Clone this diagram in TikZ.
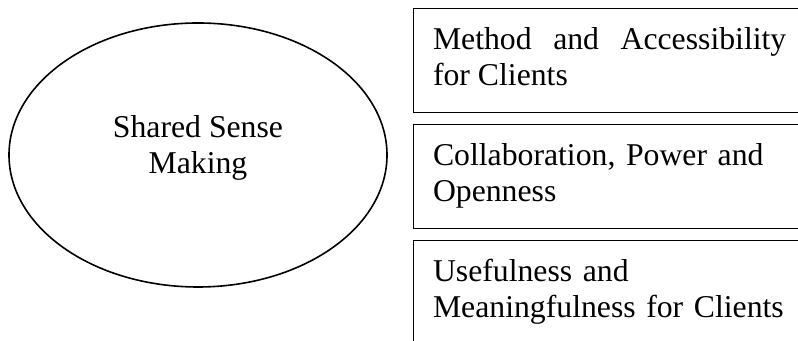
\documentclass[tikz,border=0pt]{standalone}
\usepackage{fontspec}
\setmainfont{Liberation Serif}
\usetikzlibrary{shapes.geometric}
\usetikzlibrary{positioning}
\tolerance=9999
\hyphenpenalty=10000

\begin{document}
\begin{tikzpicture}[x=0.75pt,y=0.75pt,node distance=9pt,
    sense node/.style={ellipse,draw,line width=1.2pt,minimum width=283.5pt,minimum height=198pt,align=center,font=\fontsize{23.8}{27}\selectfont},
    theme box/.style={rectangle,draw,line width=0.7pt,anchor=north west,outer sep=0pt,inner xsep=15pt,inner ysep=0pt,text width=265pt,minimum height=78pt,font=\fontsize{23.8}{27}\selectfont,execute at begin node=\strut,execute at end node=\strut}]
   \useasboundingbox (0,0) rectangle (798,341);
   \clip (0,0) rectangle (798,341);
   \begin{scope}
      \node[sense node] (ssm) at (198,186) {Shared Sense\\Making\rule[-16.2pt]{0pt}{0pt}};
      \node[theme box,align=justify] (mac) at (413,333) {Method and Accessibility for Clients};
      \node[theme box,align=left,below=of mac.south west,anchor=north west] (cpo) {Collaboration, Power and Openness};
      \node[theme box,align=left,below=of cpo.south west,anchor=north west] (umc) {Usefulness and\\Meaningfulness for Clients};
      %\node[theme box] (extra) at (413,0) {};
    \end{scope}
  \end{tikzpicture}
\end{document}
